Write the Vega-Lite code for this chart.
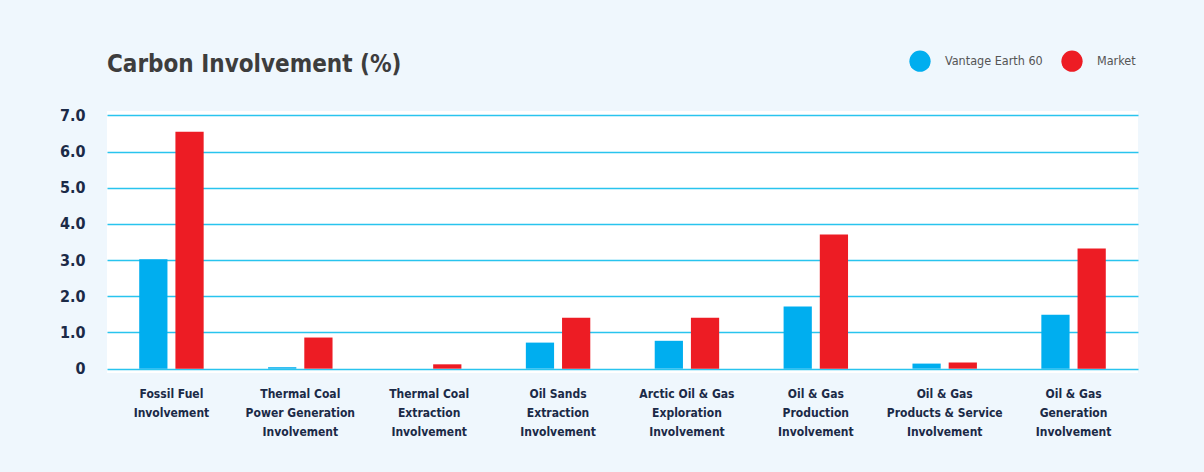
{
  "$schema": "https://vega.github.io/schema/vega-lite/v6.json",
  "width": 1031,
  "height": 262,
  "autosize": {"type": "none"},
  "padding": {"left": 107, "top": 111, "right": 66, "bottom": 99},
  "background": "#eff7fd",
  "title": {
    "text": "Carbon Involvement (%)",
    "anchor": "start",
    "frame": "group",
    "orient": "top",
    "offset": -27,
    "font": "DejaVu Sans Condensed",
    "fontSize": 24,
    "fontWeight": "bold",
    "color": "#3d3d3d"
  },
  "data": {
    "values": [
      {"category": "Fossil Fuel|Involvement", "series": "Vantage Earth 60", "value": 3.02},
      {"category": "Fossil Fuel|Involvement", "series": "Market", "value": 6.55},
      {"category": "Thermal Coal|Power Generation|Involvement", "series": "Vantage Earth 60", "value": 0.04},
      {"category": "Thermal Coal|Power Generation|Involvement", "series": "Market", "value": 0.86},
      {"category": "Thermal Coal|Extraction|Involvement", "series": "Vantage Earth 60", "value": 0.0},
      {"category": "Thermal Coal|Extraction|Involvement", "series": "Market", "value": 0.12},
      {"category": "Oil Sands|Extraction|Involvement", "series": "Vantage Earth 60", "value": 0.72},
      {"category": "Oil Sands|Extraction|Involvement", "series": "Market", "value": 1.41},
      {"category": "Arctic Oil & Gas|Exploration|Involvement", "series": "Vantage Earth 60", "value": 0.77},
      {"category": "Arctic Oil & Gas|Exploration|Involvement", "series": "Market", "value": 1.41},
      {"category": "Oil & Gas|Production|Involvement", "series": "Vantage Earth 60", "value": 1.72},
      {"category": "Oil & Gas|Production|Involvement", "series": "Market", "value": 3.71},
      {"category": "Oil & Gas|Products & Service|Involvement", "series": "Vantage Earth 60", "value": 0.14},
      {"category": "Oil & Gas|Products & Service|Involvement", "series": "Market", "value": 0.17},
      {"category": "Oil & Gas|Generation|Involvement", "series": "Vantage Earth 60", "value": 1.49},
      {"category": "Oil & Gas|Generation|Involvement", "series": "Market", "value": 3.32}
    ]
  },
  "mark": {"type": "bar"},
  "encoding": {
    "x": {
      "field": "category",
      "type": "nominal",
      "sort": null,
      "scale": {"paddingInner": 0.5, "paddingOuter": 0.25},
      "axis": {
        "title": null,
        "labelAngle": 0,
        "labelExpr": "split(datum.label, '|')",
        "labelFont": "DejaVu Sans Condensed",
        "labelFontSize": 12,
        "labelFontWeight": "bold",
        "labelColor": "#1b2a47",
        "labelLineHeight": 19,
        "labelPadding": 15,
        "labelBaseline": "top",
        "domain": false,
        "ticks": false,
        "grid": false
      }
    },
    "xOffset": {
      "field": "series",
      "type": "nominal",
      "sort": ["Vantage Earth 60", "Market"],
      "scale": {"paddingInner": 0.22, "paddingOuter": 0}
    },
    "y": {
      "field": "value",
      "type": "quantitative",
      "scale": {"domain": [-0.12, 7.12], "nice": false, "zero": false},
      "axis": {
        "title": null,
        "values": [0, 1, 2, 3, 4, 5, 6, 7],
        "labelExpr": "datum.value == 0 ? '0' : format(datum.value, '.1f')",
        "labelFont": "DejaVu Sans Condensed",
        "labelFontSize": 16,
        "labelFontWeight": "bold",
        "labelColor": "#1b2a47",
        "labelPadding": 22,
        "domain": false,
        "ticks": false,
        "grid": true,
        "gridColor": "#29c4ee",
        "gridWidth": 1.3
      }
    },
    "y2": {"datum": 0},
    "color": {
      "field": "series",
      "type": "nominal",
      "sort": ["Vantage Earth 60", "Market"],
      "scale": {"domain": ["Vantage Earth 60", "Market"], "range": ["#00aeef", "#ed1c24"]},
      "legend": {
        "title": null,
        "orient": "none",
        "direction": "horizontal",
        "legendX": 802,
        "legendY": -61,
        "symbolType": "circle",
        "symbolSize": 452,
        "symbolStrokeWidth": 0,
        "symbolOpacity": 1,
        "labelFont": "DejaVu Sans Condensed",
        "labelFontSize": 12.5,
        "labelColor": "#555555",
        "labelOffset": 14,
        "columnPadding": 18
      }
    }
  },
  "config": {
    "view": {"fill": "#ffffff", "stroke": null}
  }
}
